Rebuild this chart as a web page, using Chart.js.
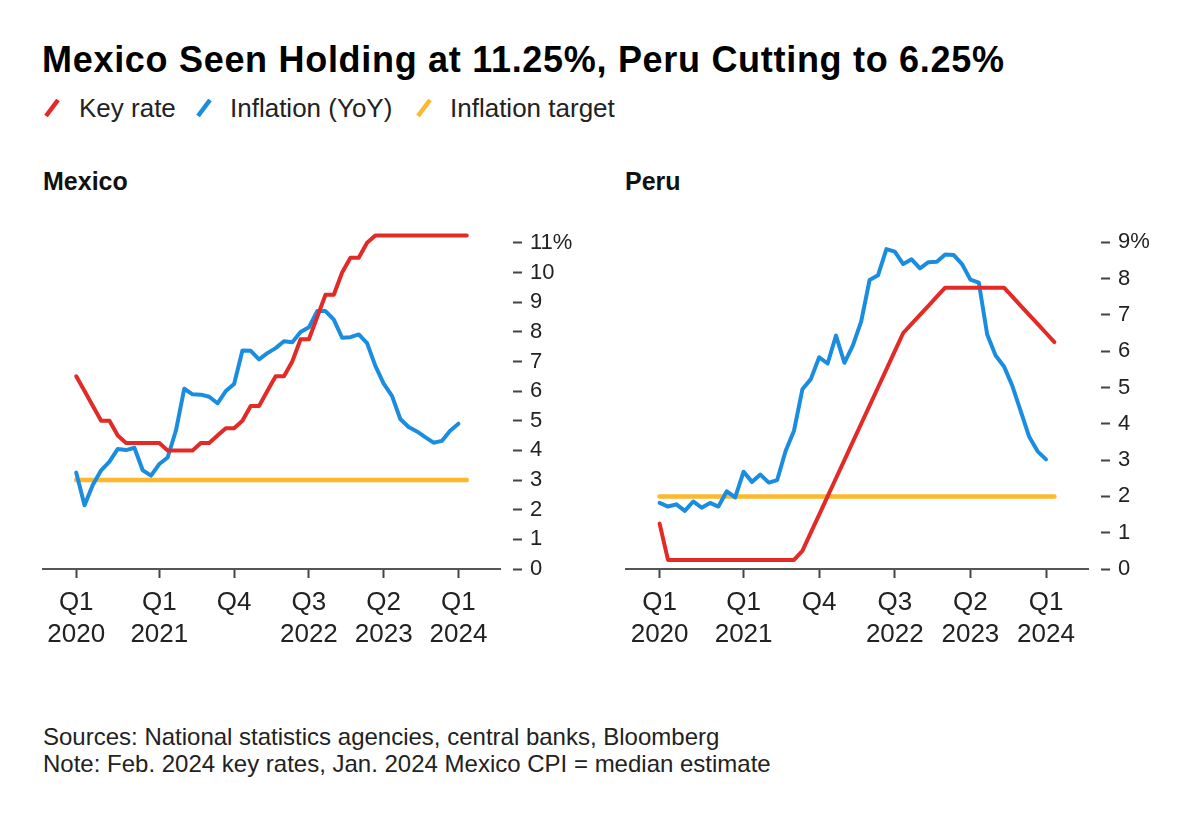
<!DOCTYPE html>
<html>
<head>
<meta charset="utf-8">
<script src="https://cdn.jsdelivr.net/npm/chart.js@4"></script>
<style>
  body { margin: 0; background: #fff; font-family: 'Liberation Sans', Arial, sans-serif; color: #111; }
  #page { position: relative; width: 1200px; height: 816px; overflow: hidden; background: #fff; }
  .txt { position: absolute; white-space: nowrap; line-height: 1; }
  .title { left: 42px; top: 42px; font-size: 36px; font-weight: bold; color: #000; letter-spacing: 0.7px; }
  .legend { top: 95px; font-size: 26px; color: #222; }
  .swatch { position: absolute; top: 99px; }
  .panel { top: 169px; font-size: 25px; font-weight: bold; color: #111; }
  .foot { left: 43px; top: 723px; font-size: 24px; line-height: 27px; color: #222; }
  .box { position: absolute; top: 192px; height: 488px; }
</style>
</head>
<body>
<div id="page">
  <div class="txt title">Mexico Seen Holding at 11.25%, Peru Cutting to 6.25%</div>

  <svg class="swatch" style="left:44px" width="16" height="19"><line x1="2" y1="17" x2="14" y2="1" stroke="#e22a26" stroke-width="4.5"/></svg>
  <div class="txt legend" style="left:79px">Key rate</div>
  <svg class="swatch" style="left:196px" width="16" height="19"><line x1="2" y1="17" x2="14" y2="1" stroke="#1b8de0" stroke-width="4.5"/></svg>
  <div class="txt legend" style="left:230px">Inflation (YoY)</div>
  <svg class="swatch" style="left:416px" width="16" height="19"><line x1="2" y1="17" x2="14" y2="1" stroke="#fdb82e" stroke-width="4.5"/></svg>
  <div class="txt legend" style="left:450px">Inflation target</div>

  <div class="txt panel" style="left:43px">Mexico</div>
  <div class="txt panel" style="left:625px">Peru</div>

  <div class="box" style="left:30px; width:550px"><canvas id="mexico"></canvas></div>
  <div class="box" style="left:613px; width:555px"><canvas id="peru"></canvas></div>

  <div class="txt foot">Sources: National statistics agencies, central banks, Bloomberg<br>Note: Feb. 2024 key rates, Jan. 2024 Mexico CPI = median estimate</div>
</div>

<script>
// monthly data starting Mar 2020 (month index, Jan 2020 = 0)
const firstMonth = 2;

const mexicoKeyRate = [6.5, 6.0, 5.5, 5.0, 5.0, 4.5, 4.25, 4.25, 4.25, 4.25,
  4.25, 4.0, 4.0, 4.0, 4.0, 4.25, 4.25, 4.5, 4.75, 4.75, 5.0, 5.5,
  5.5, 6.0, 6.5, 6.5, 7.0, 7.75, 7.75, 8.5, 9.25, 9.25, 10.0, 10.5,
  10.5, 11.0, 11.25, 11.25, 11.25, 11.25, 11.25, 11.25, 11.25, 11.25, 11.25, 11.25,
  11.25, 11.25];
const mexicoInflation = [3.25, 2.15, 2.84, 3.33, 3.62, 4.05, 4.01, 4.09, 3.33, 3.15,
  3.54, 3.76, 4.67, 6.08, 5.89, 5.88, 5.81, 5.59, 6.00, 6.24, 7.37, 7.36,
  7.07, 7.28, 7.45, 7.68, 7.65, 7.99, 8.15, 8.70, 8.70, 8.41, 7.80, 7.82,
  7.91, 7.62, 6.85, 6.25, 5.84, 5.06, 4.79, 4.64, 4.45, 4.26, 4.32, 4.66,
  4.90];
const mexicoTarget = 3;

const peruKeyRate = [1.25, 0.25, 0.25, 0.25, 0.25, 0.25, 0.25, 0.25, 0.25, 0.25,
  0.25, 0.25, 0.25, 0.25, 0.25, 0.25, 0.25, 0.5, 1.0, 1.5, 2.0, 2.5,
  3.0, 3.5, 4.0, 4.5, 5.0, 5.5, 6.0, 6.5, 6.75, 7.0, 7.25, 7.5,
  7.75, 7.75, 7.75, 7.75, 7.75, 7.75, 7.75, 7.75, 7.5, 7.25, 7.0, 6.75,
  6.5, 6.25];
const peruInflation = [1.82, 1.72, 1.78, 1.60, 1.86, 1.69, 1.82, 1.72, 2.14, 1.97,
  2.68, 2.40, 2.60, 2.38, 2.45, 3.25, 3.81, 4.95, 5.23, 5.83, 5.66, 6.43,
  5.68, 6.15, 6.82, 7.96, 8.09, 8.81, 8.74, 8.40, 8.53, 8.28, 8.45, 8.46,
  8.66, 8.65, 8.40, 7.97, 7.89, 6.46, 5.88, 5.58, 5.04, 4.34, 3.64, 3.24,
  3.02];
const peruTarget = 2;

// axis ticks
const xTickMonths = [2, 12, 21, 30, 39, 48];
const xTickLabels = [['Q1', '2020'], ['Q1', '2021'], ['Q4'], ['Q3', '2022'], ['Q2', '2023'], ['Q1', '2024']];
const mexicoYTicks = [0, 1, 2, 3, 4, 5, 6, 7, 8, 9, 10, 11];
const peruYTicks = [0, 1, 2, 3, 4, 5, 6, 7, 8, 9];

const red = '#e22a26';
const blue = '#1b8de0';
const yellow = '#fdb82e';

Chart.defaults.font.family = "'Liberation Sans', Arial, sans-serif";
Chart.defaults.color = '#222';

const toPoints = (values) => values.map((v, i) => ({ x: firstMonth + i, y: v }));

function makeChart(id, keyRate, inflation, target, yMax, yTicks) {
  const lastMonth = firstMonth + keyRate.length - 1;
  const line = (label, data, color, width) => ({
    label: label,
    data: data,
    borderColor: color,
    borderWidth: width,
    pointRadius: 0,
    tension: 0,
    borderJoinStyle: 'round',
    borderCapStyle: 'round'
  });

  return new Chart(document.getElementById(id), {
    type: 'line',
    data: {
      datasets: [
        line('Key rate', toPoints(keyRate), red, 4),
        line('Inflation (YoY)', toPoints(inflation), blue, 4),
        line('Inflation target', [{ x: firstMonth, y: target }, { x: lastMonth, y: target }], yellow, 4.5)
      ]
    },
    options: {
      responsive: true,
      maintainAspectRatio: false,
      animation: false,
      layout: { padding: { left: 13, top: 0, right: 0, bottom: 0 } },
      plugins: { legend: { display: false }, tooltip: { enabled: false } },
      scales: {
        x: {
          type: 'linear',
          min: -2,
          max: 53,
          afterBuildTicks: (s) => { s.ticks = xTickMonths.map(v => ({ value: v })); },
          afterFit: (s) => { s.height = 111; },
          ticks: {
            callback: (v) => xTickLabels[xTickMonths.indexOf(v)],
            font: { size: 26, lineHeight: 1.23 },
            color: '#222',
            padding: 9,
            maxRotation: 0,
            autoSkip: false
          },
          grid: { drawOnChartArea: false, tickLength: 9, tickWidth: 2, tickColor: '#444' },
          border: { display: true, color: '#555', width: 2 }
        },
        y: {
          position: 'right',
          min: 0,
          max: yMax,
          afterBuildTicks: (s) => { s.ticks = yTicks.map(v => ({ value: v })); },
          afterFit: (s) => { s.width = 80; },
          ticks: {
            callback: (v) => v === yTicks[yTicks.length - 1] ? v + '%' : v,
            font: { size: 22 },
            color: '#222',
            padding: 8
          },
          grid: {
            drawOnChartArea: false,
            tickLength: 22,
            tickWidth: 2,
            tickColor: '#444',
            tickBorderDash: [0, 13, 9, 0]
          },
          border: { display: false }
        }
      }
    }
  });
}

makeChart('mexico', mexicoKeyRate, mexicoInflation, mexicoTarget, 12, mexicoYTicks);
makeChart('peru', peruKeyRate, peruInflation, peruTarget, 9.8, peruYTicks);
</script>
</body>
</html>
